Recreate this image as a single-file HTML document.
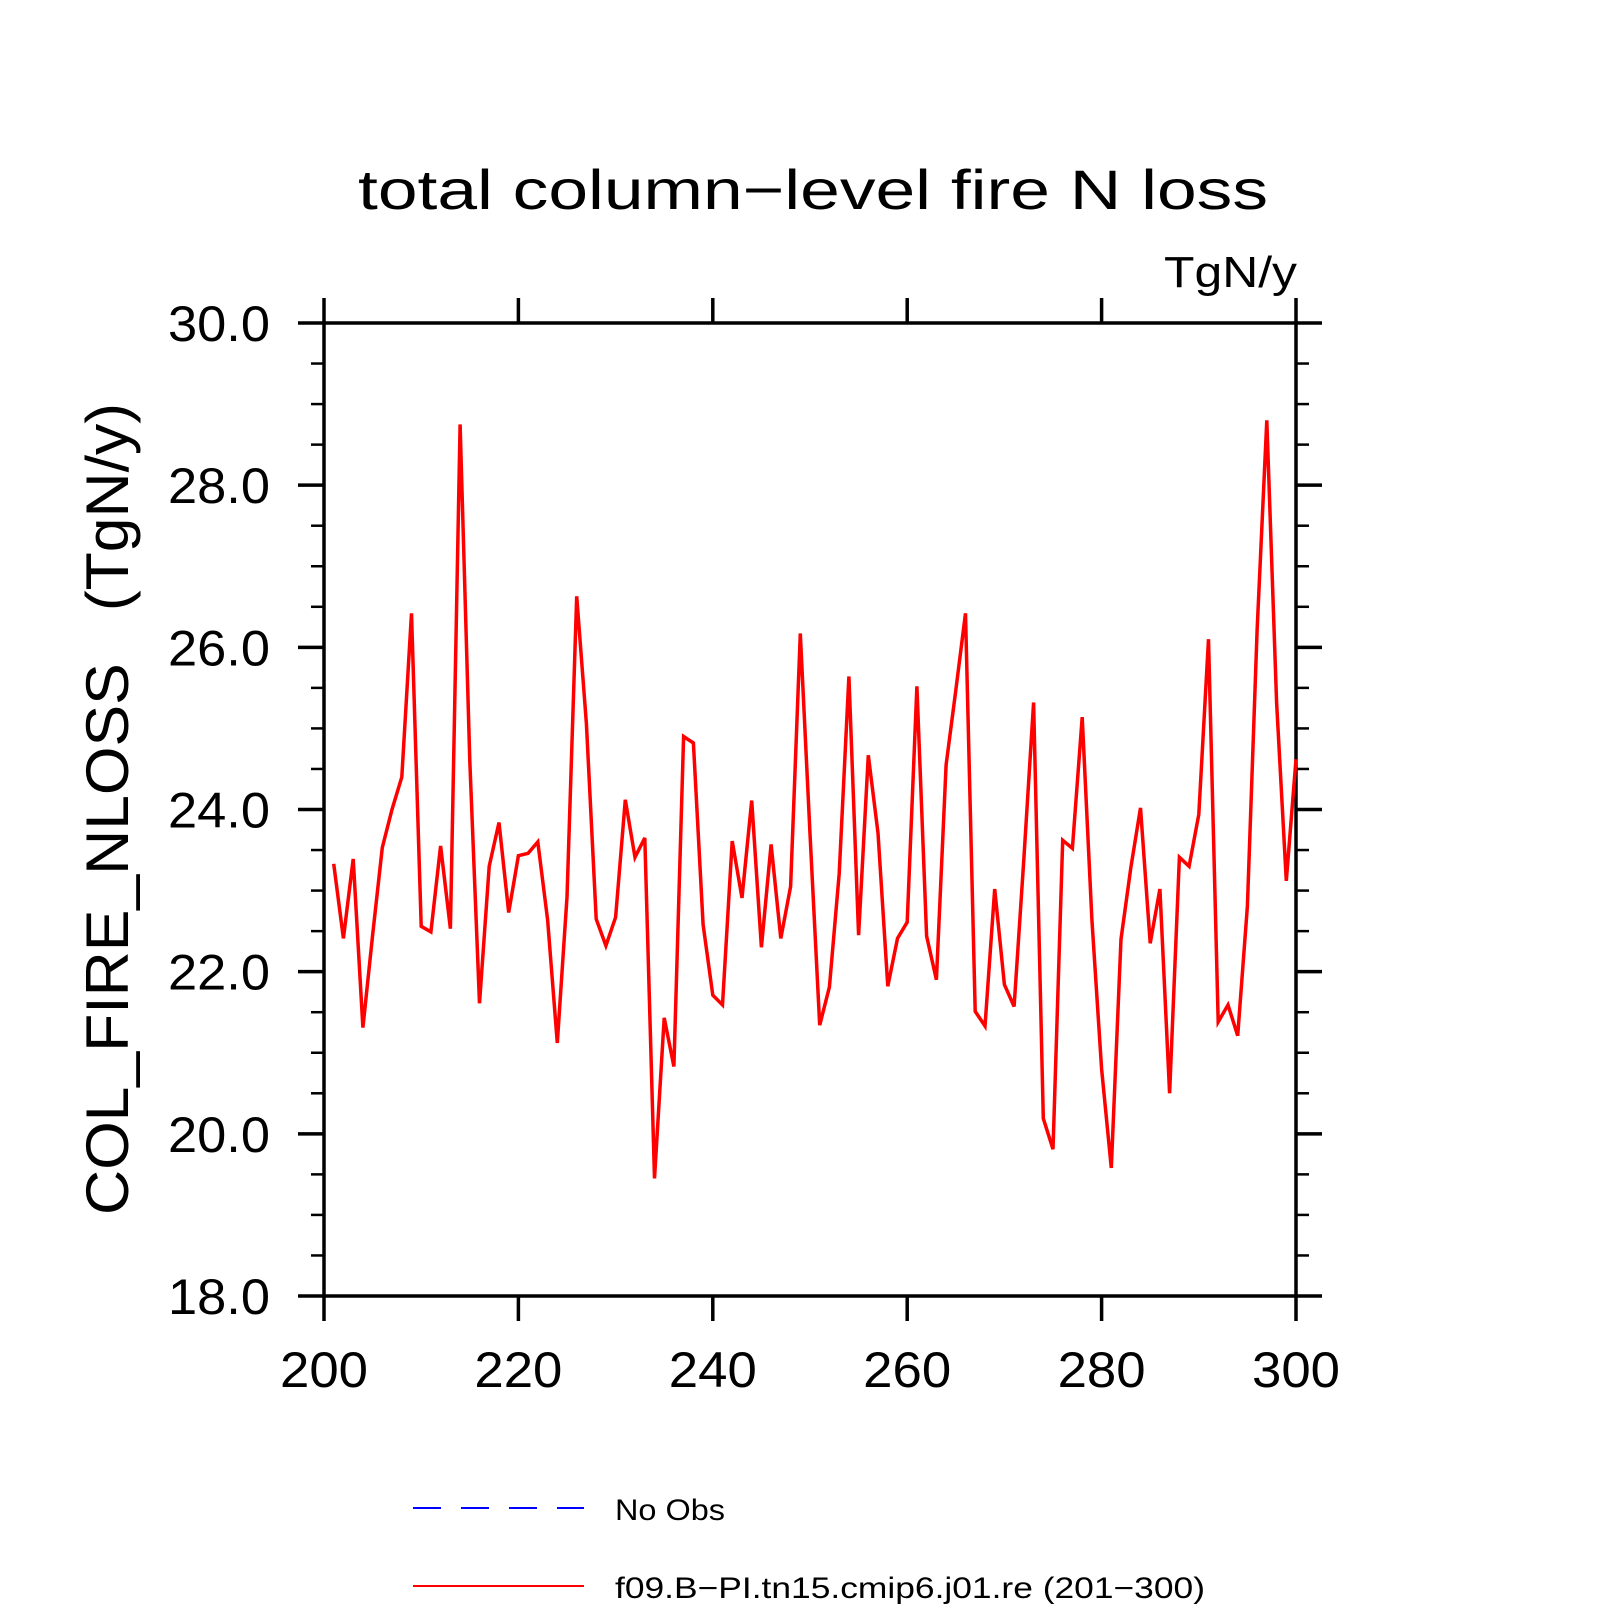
<!DOCTYPE html>
<html><head><meta charset="utf-8"><style>
html,body{margin:0;padding:0;background:#fff;}
svg{display:block;font-family:"Liberation Sans",sans-serif;}
</style></head><body>
<svg id="chart" width="1620" height="1620" viewBox="0 0 1620 1620" xmlns="http://www.w3.org/2000/svg">
<text x="358" y="209" font-size="56" textLength="910" lengthAdjust="spacingAndGlyphs" fill="#000">total column−level fire N loss</text>
<text x="1164" y="287" font-size="44" textLength="133" lengthAdjust="spacingAndGlyphs" fill="#000">TgN/y</text>
<text transform="translate(128,809) rotate(-90)" text-anchor="middle" font-size="60" textLength="812" lengthAdjust="spacingAndGlyphs" fill="#000" xml:space="preserve">COL_FIRE_NLOSS   (TgN/y)</text>
<g id="axes"></g>
<g id="series"></g>
<g>
<line x1="413" y1="1508" x2="584" y2="1508" stroke="#0000ff" stroke-width="2" stroke-dasharray="28,20"/>
<text x="615" y="1520" font-size="30" textLength="110" lengthAdjust="spacingAndGlyphs" fill="#000">No Obs</text>
<line x1="413" y1="1586" x2="584" y2="1586" stroke="#ff0000" stroke-width="2"/>
<text x="615" y="1598" font-size="30" textLength="590" lengthAdjust="spacingAndGlyphs" fill="#000">f09.B−PI.tn15.cmip6.j01.re (201−300)</text>
</g>
</svg>
<script>
const years = [];
for (let y = 201; y <= 300; y++) years.push(y);
const values = [23.33,22.41,23.39,21.31,22.45,23.53,24.0,24.40,26.42,22.56,
22.49,23.55,22.53,28.75,24.6,21.61,23.30,23.84,22.73,23.43,
23.46,23.60,22.64,21.12,22.92,26.63,25.06,22.65,22.32,22.67,
24.12,23.41,23.65,19.45,21.43,20.83,24.90,24.82,22.58,21.71,
21.59,23.61,22.91,24.11,22.30,23.57,22.41,23.05,26.17,23.7,
21.34,21.81,23.21,25.64,22.45,24.67,23.71,21.82,22.41,22.61,
25.52,22.44,21.90,24.55,25.47,26.42,21.51,21.33,23.02,21.84,
21.57,23.38,25.32,20.19,19.81,23.62,23.52,25.14,22.64,20.80,
19.58,22.40,23.28,24.02,22.35,23.02,20.50,23.41,23.30,23.94,
26.10,21.38,21.59,21.21,22.81,26.21,28.80,25.32,23.12,24.62];
const xTicks = [200,220,240,260,280,300];
const yTicks = [18,20,22,24,26,28,30];
const yTickLabels = ["18.0","20.0","22.0","24.0","26.0","28.0","30.0"];

const L=324,R=1296,T=323,B=1296;
const xMin=200,xMax=300,yMin=18,yMax=30;
const sx=v=>L+(v-xMin)/(xMax-xMin)*(R-L);
const sy=v=>B-(v-yMin)/(yMax-yMin)*(B-T);
const NS="http://www.w3.org/2000/svg";
const axes=document.getElementById('axes');
function mk(tag,attrs,parent){const e=document.createElementNS(NS,tag);for(const k in attrs)e.setAttribute(k,attrs[k]);parent.appendChild(e);return e;}
const frame=mk('rect',{x:L,y:T,width:R-L,height:B-T,fill:'none',stroke:'#000','stroke-width':3.5},axes);


xTicks.forEach(v=>{
  const x=sx(v);
  const t1=mk('line',{x1:x,y1:B,x2:x,y2:B+25,stroke:'#000','stroke-width':3.5},axes);
  
  
  const t2=mk('line',{x1:x,y1:T,x2:x,y2:T-25,stroke:'#000','stroke-width':3.5},axes);
  
  
  const tx=mk('text',{x:x,y:1387,'text-anchor':'middle','font-size':50,textLength:88,lengthAdjust:'spacingAndGlyphs',fill:'#000'},axes);
  tx.textContent=String(v);
  
  
});
yTicks.forEach((v,i)=>{
  const y=sy(v);
  const t1=mk('line',{x1:L-26,y1:y,x2:L,y2:y,stroke:'#000','stroke-width':3.5},axes);
  
  
  const t2=mk('line',{x1:R,y1:y,x2:R+26,y2:y,stroke:'#000','stroke-width':3.5},axes);
  
  
  const tx=mk('text',{x:270,y:y+18,'text-anchor':'end','font-size':50,textLength:102,lengthAdjust:'spacingAndGlyphs',fill:'#000'},axes);
  tx.textContent=yTickLabels[i];
  
  
  if(i<yTicks.length-1){
    for(let k=1;k<4;k++){
      const ym=sy(v+k*(yTicks[i+1]-v)/4);
      const m1=mk('line',{x1:L-13,y1:ym,x2:L,y2:ym,stroke:'#000','stroke-width':2.5},axes);
      
      
      const m2=mk('line',{x1:R,y1:ym,x2:R+13,y2:ym,stroke:'#000','stroke-width':2.5},axes);
      
      
    }
  }
});
const series=document.getElementById('series');
const pts=years.map((yr,i)=>sx(yr).toFixed(1)+','+sy(values[i]).toFixed(1)).join(' ');
const line=mk('polyline',{points:pts,fill:'none',stroke:'#ff0000','stroke-width':3.5,'stroke-linejoin':'miter'},series);


</script>
</body></html>
